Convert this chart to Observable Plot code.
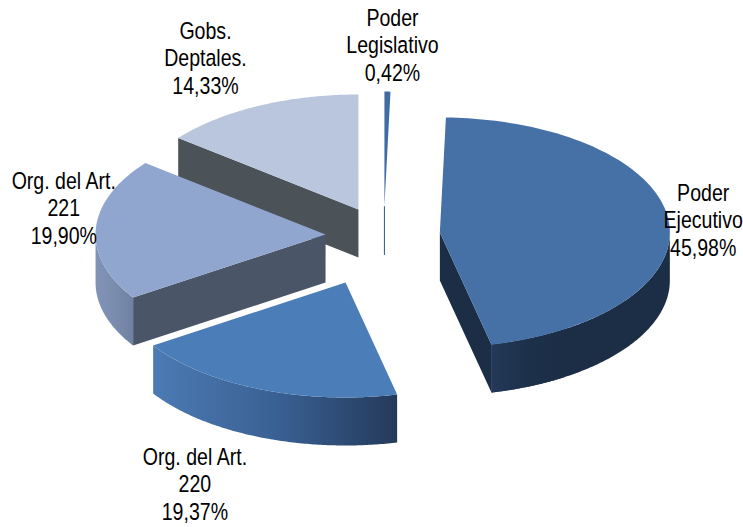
<!DOCTYPE html>
<html><head><meta charset="utf-8">
<style>html,body{margin:0;padding:0;background:#fff}svg{display:block}</style>
<script src="https://cdn.jsdelivr.net/npm/d3@7"></script>
<script src="https://cdn.jsdelivr.net/npm/@observablehq/plot@0.6"></script>
</head><body><script>
const categories = ["Poder Legislativo","Poder Ejecutivo","Org. del Art. 220","Org. del Art. 221","Gobs. Deptales."];
const values = [0.42,45.98,19.37,19.90,14.33];
const labels = ["Poder\nLegislativo\n0,42%","Poder\nEjecutivo\n45,98%","Org. del Art.\n220\n19,37%","Org. del Art.\n221\n19,90%","Gobs.\nDeptales.\n14,33%"];

// Presentation: pie explosion (pie units), label anchors (pie units), colours
const explodeX = [0.004,0.245,-0.165,-0.252,-0.109];
const explodeY = [-0.26,-0.035,0.40,-0.017,-0.235];
const labelX = [0.039,1.39,-0.82,-1.39,-0.774];
const labelY = [-1.668,-0.147,2.149,-0.251,-1.556];
const topFill = ["#3f6ca3","#4571a7","#4b7db8","#91a6cf","#b9c6de"];
const depth = 48/115;

const total = d3.sum(values);
let acc = 0;
const slices = values.map((v,i)=>{const a0=acc/total*2*Math.PI; acc+=v; const a1=acc/total*2*Math.PI;
  return {i,a0,a1,cx:explodeX[i],cy:explodeY[i]};});
const rim = (s,a,dz=0)=>({x:s.cx+Math.sin(a),y:s.cy-Math.cos(a)+dz});
const arc = (s,a0,a1,dz=0)=>d3.range(0,121).map(k=>rim(s,a0+(a1-a0)*k/120,dz));
const apex = (s,dz=0)=>({x:s.cx,y:s.cy+dz});
const topFace = s=>[apex(s),...arc(s,s.a0,s.a1),apex(s)];
const outerWall = (s,a0,a1)=>[...arc(s,a0,a1),...arc(s,a0,a1,depth).reverse()];
const innerWall = (s,a)=>[apex(s),rim(s,a),rim(s,a,depth),apex(s,depth)];
const poly = (pts,fill)=>Plot.line(pts,{x:"x",y:"y",fill,stroke:"none",curve:"linear"});

const defs = ()=>{
  const ns="http://www.w3.org/2000/svg";
  const d=document.createElementNS(ns,"defs");
  const grads={g1:["#24395a","#1c3049","#1b2e46"],g2:["#4c7ab3","#3a6194","#243a5a"],g3:["#8194b8","#7a8dae","#6e81a3"]};
  for(const id in grads){
    const g=document.createElementNS(ns,"linearGradient");
    g.setAttribute("id",id);g.setAttribute("x1","0");g.setAttribute("x2","1");g.setAttribute("y1","0");g.setAttribute("y2","0");
    grads[id].forEach((c,k,a)=>{const st=document.createElementNS(ns,"stop");st.setAttribute("offset",k/(a.length-1));st.setAttribute("stop-color",c);g.appendChild(st);});
    d.appendChild(g);
  }
  return d;
};

const [sL,sE,s220,s221,sG]=slices;
const chartMarks=[
  defs,
  poly(innerWall(sG,sG.a0),"#4b5258"),
  poly(topFace(sG),topFill[4]),
  Plot.line([apex(sL),apex(sL,depth)],{x:"x",y:"y",stroke:"#2f5585",strokeWidth:1}),
  poly(topFace(sL),topFill[0]),
  poly(outerWall(s221,s221.a0,3*Math.PI/2),"url(#g3)"),
  poly(innerWall(s221,s221.a0),"#4a5568"),
  poly(topFace(s221),topFill[3]),
  poly(outerWall(sE,Math.PI/2,sE.a1),"#1b2e46"),
  poly(outerWall(sE,sE.a1-0.35,sE.a1),"url(#g1)"),
  poly(innerWall(sE,sE.a1),"#1b2e46"),
  poly(topFace(sE),topFill[1]),
  poly(outerWall(s220,s220.a0,s220.a1).slice().reverse(),"url(#g2)"),
  poly(topFace(s220),topFill[2]),
  Plot.text(labels.map((t,i)=>({t,x:labelX[i],y:labelY[i]})),{x:"x",y:"y",text:"t",fontSize:23.3,lineHeight:1.18,lineAnchor:"middle",textAnchor:"middle",fill:"#000",
    fontFamily:"'Liberation Sans',sans-serif"})
];
const chart=Plot.plot({
  width:743,height:527,margin:0,
  x:{domain:[-383/230,360/230],range:[0,743],axis:null},
  y:{domain:[-236/115,291/115],range:[0,527],axis:null},
  marks:chartMarks
});
// The reference uses a narrow face: condense the labels horizontally
d3.select(chart).selectAll("text").attr("transform",function(){return (this.getAttribute("transform")||"")+" scale(0.84,1)";});
document.body.appendChild(chart);
</script></body></html>
